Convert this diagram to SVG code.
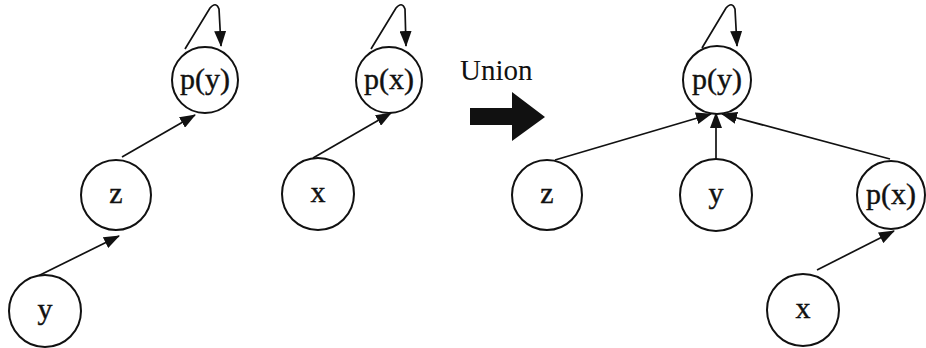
<svg xmlns="http://www.w3.org/2000/svg" width="926" height="348" viewBox="0 0 926 348">
<style>
.n{fill:#fff;stroke:#111;stroke-width:2}
.t{font-family:"Liberation Serif","Times New Roman","DejaVu Serif",serif;font-size:30px;fill:#111;stroke:#111;stroke-width:0.4;text-anchor:middle}
.e{fill:none;stroke:#111;stroke-width:1.7}
</style>
<defs>
<marker id="ah" markerUnits="userSpaceOnUse" markerWidth="16" markerHeight="12" refX="15" refY="6" orient="auto">
<path d="M0,0 L16,6 L0,12 Z" fill="#111"/>
</marker>
</defs>
<rect width="926" height="348" fill="#fff"/>
<g id="edges">
<path class="e" d="M185,49 L210,8 Q216,1 219,9 L221,46" marker-end="url(#ah)"/>
<path class="e" d="M371,49 L396,8 Q402,1 405,9 L406,46" marker-end="url(#ah)"/>
<path class="e" d="M702,48 L726,8 Q732,1 735,9 L737,46" marker-end="url(#ah)"/>
<line class="e" x1="122" y1="157" x2="195" y2="115" marker-end="url(#ah)"/>
<line class="e" x1="38" y1="276" x2="119" y2="236" marker-end="url(#ah)"/>
<line class="e" x1="313" y1="158" x2="391" y2="113" marker-end="url(#ah)"/>
<line class="e" x1="555" y1="160" x2="711" y2="114" marker-end="url(#ah)"/>
<line class="e" x1="716" y1="160" x2="716" y2="113" marker-end="url(#ah)"/>
<line class="e" x1="890" y1="159" x2="722" y2="114" marker-end="url(#ah)"/>
<line class="e" x1="817" y1="270" x2="894" y2="231" marker-end="url(#ah)"/>
</g>
<g id="union">
<text x="460" y="80" style="font-family:'Liberation Serif','Times New Roman',serif;font-size:29px;fill:#111">Union</text>
<path d="M470,108 L512,108 L512,92 L545,117 L512,141 L512,125 L470,125 Z" fill="#111"/>
</g>
<g id="py1"><circle class="n" cx="205" cy="80" r="33"/><text class="t" x="205" y="89">p(y)</text></g>
<g id="px1"><circle class="n" cx="389" cy="80" r="33"/><text class="t" x="389" y="89">p(x)</text></g>
<g id="z1"><circle class="n" cx="116" cy="195" r="35"/><text class="t" x="116" y="203">z</text></g>
<g id="y1"><circle class="n" cx="45" cy="311" r="36"/><text class="t" x="45" y="319">y</text></g>
<g id="x1"><circle class="n" cx="318" cy="194" r="36"/><text class="t" x="318" y="202">x</text></g>
<g id="py2"><circle class="n" cx="717" cy="80" r="34"/><text class="t" x="717" y="89">p(y)</text></g>
<g id="z2"><circle class="n" cx="547" cy="195" r="35"/><text class="t" x="547" y="203">z</text></g>
<g id="y2"><circle class="n" cx="716" cy="195" r="36"/><text class="t" x="716" y="203">y</text></g>
<g id="px2"><circle class="n" cx="891" cy="195" r="34"/><text class="t" x="891" y="204">p(x)</text></g>
<g id="x2"><circle class="n" cx="803" cy="310" r="36"/><text class="t" x="803" y="318">x</text></g>
</svg>
